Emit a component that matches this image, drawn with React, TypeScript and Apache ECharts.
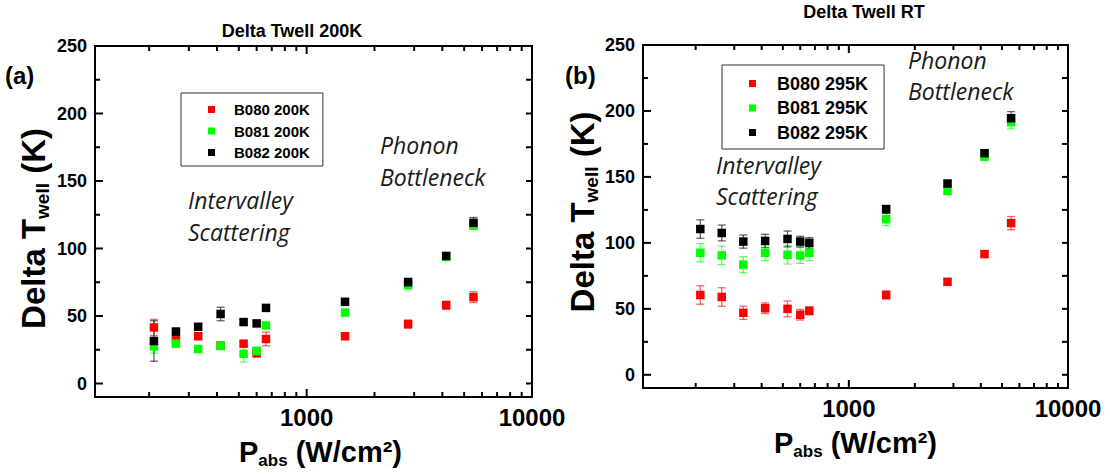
import React, { useEffect, useRef } from 'react';
import * as echarts from 'echarts';

// Absorbed power density (W/cm^2), shared by all series
const pAbs = [210, 263, 330, 415, 525, 600, 660, 1480, 2820, 4160, 5500];

// Panel (a): 200K
const b080_200K = [41.5, 33, 35, 28, 29.5, 22.5, 33, 35, 44, 58, 64];
const b080_200K_err = [6, 4, 2, 2, 2, 3, 5, 2, 3, 3, 4];
const b081_200K = [27.5, 29.5, 25.5, 28, 22, 24, 43, 52.5, 73, 94, 117];
const b081_200K_err = [5, 2, 2, 3, 6, 3, 2, 2, 3, 3, 3];
const b082_200K = [31.5, 38.5, 42, 51.5, 45.5, 44.5, 56, 60.5, 75, 94.5, 119];
const b082_200K_err = [15, 2, 2, 5, 2, 2, 2, 2, 3, 2, 4];

// Panel (b): 295K
const b080_295K = [60.5, 59, 47, 50.5, 50, 45.5, 48.5, 60.5, 70.5, 91.5, 115];
const b080_295K_err = [7, 7, 5, 4, 6, 4, 3, 3, 2, 2, 5];
const b081_295K = [92.5, 90.5, 83.5, 92.5, 91, 90.5, 92.5, 118, 139.5, 165.5, 191.5];
const b081_295K_err = [7, 7, 6, 6, 7, 6, 6, 5, 3, 3, 5];
const b082_295K = [110.5, 107.5, 101, 101.5, 103, 101, 100, 125.5, 145, 168, 194.5];
const b082_295K_err = [7, 6, 5, 5, 6, 4, 4, 3, 2, 2, 5];

// Axis ranges and tick values
const X_MIN = 115;
const X_MAX = 10000;
const Y_MIN = -10;
const Y_MAX = 250;
const xMajor = [1000, 10000];
const xMinor = [200, 300, 400, 500, 600, 700, 800, 900, 2000, 3000, 4000, 5000, 6000, 7000, 8000, 9000];
const yMajor = [0, 50, 100, 150, 200, 250];
const yMinor = [25, 75, 125, 175, 225];

const FONT = 'Liberation Sans';
const RED = '#ff0000';
const GREEN = '#00ff00';
const BLACK = '#000000';

const grids = [
  { left: 95, top: 46, width: 437, height: 352 },
  { left: 643, top: 45, width: 425, height: 343 },
];

const xNameRich = {
  a: { fontSize: 29, fontWeight: 'bold', fontFamily: FONT, color: '#000', lineHeight: 34 },
  s: { fontSize: 17, fontWeight: 'bold', fontFamily: FONT, color: '#000', lineHeight: 17, verticalAlign: 'bottom' },
};
const yNameRich = {
  a: { fontSize: 33, fontWeight: 'bold', fontFamily: FONT, color: '#000', lineHeight: 38 },
  s: { fontSize: 19, fontWeight: 'bold', fontFamily: FONT, color: '#000', lineHeight: 19, verticalAlign: 'bottom' },
};

const axisLineOn = { show: true, onZero: false, lineStyle: { color: '#000', width: 2, cap: 'square' } };

function xAxes(gridIndex: number, namePad: number[]) {
  const base = {
    gridIndex,
    type: 'log',
    logBase: 10,
    min: X_MIN,
    max: X_MAX,
    splitLine: { show: false },
    axisTick: { show: false },
    axisLine: axisLineOn,
  };
  return [
    {
      ...base,
      position: 'bottom',
      axisLabel: {
        customValues: xMajor,
        formatter: (v: number) => String(Math.round(v)),
        fontSize: 24,
        fontWeight: 'bold',
        fontFamily: FONT,
        color: '#000',
        margin: 8,
      },
      name: '{a|P}{s|abs}{a| (W/cm²)}',
      nameLocation: 'middle',
      nameGap: 38,
      nameTextStyle: { rich: xNameRich, padding: namePad },
    },
    { ...base, position: 'top', axisLabel: { show: false } },
  ];
}

function yAxes(gridIndex: number, nameGap: number, namePad: number[]) {
  const base = {
    gridIndex,
    type: 'value',
    min: Y_MIN,
    max: Y_MAX,
    splitLine: { show: false },
    axisTick: { show: false },
    axisLine: axisLineOn,
  };
  return [
    {
      ...base,
      position: 'left',
      axisLabel: {
        customValues: yMajor,
        fontSize: 18,
        fontWeight: 'bold',
        fontFamily: FONT,
        color: '#000',
        margin: 8,
      },
      name: '{a|Delta T}{s|well}{a| (K)}',
      nameLocation: 'middle',
      nameRotate: 90,
      nameGap,
      nameTextStyle: { rich: yNameRich, padding: namePad },
    },
    { ...base, position: 'right', axisLabel: { show: false } },
  ];
}

function tickLine(x1: number, y1: number, x2: number, y2: number) {
  return { type: 'line', shape: { x1, y1, x2, y2 }, style: { stroke: '#000', lineWidth: 2 } };
}

// Inward ticks on bottom and top edges, placed through the log x scale
function xTickSeries(xi: number, yi: number) {
  return {
    type: 'custom',
    xAxisIndex: xi,
    yAxisIndex: yi,
    silent: true,
    clip: false,
    z: 6,
    encode: { x: 0, y: 1 },
    data: [...xMajor.map((v) => [v, 0, 8]), ...xMinor.map((v) => [v, 0, 5])],
    renderItem: (_p: any, api: any) => {
      const v = api.value(0);
      const len = api.value(2);
      const b = api.coord([v, Y_MIN]);
      const t = api.coord([v, Y_MAX]);
      return {
        type: 'group',
        children: [tickLine(b[0], b[1], b[0], b[1] - len), tickLine(t[0], t[1], t[0], t[1] + len)],
      };
    },
  };
}

// Inward ticks on left and right edges, placed through the y scale
function yTickSeries(xi: number, yi: number) {
  return {
    type: 'custom',
    xAxisIndex: xi,
    yAxisIndex: yi,
    silent: true,
    clip: false,
    z: 6,
    encode: { x: 0, y: 1 },
    data: [...yMajor.map((v) => [X_MIN, v, 8, 6]), ...yMinor.map((v) => [X_MIN, v, 5, 6])],
    renderItem: (_p: any, api: any) => {
      const v = api.value(1);
      const lenL = api.value(2);
      const lenR = api.value(3);
      const l = api.coord([X_MIN, v]);
      const r = api.coord([X_MAX, v]);
      return {
        type: 'group',
        children: [tickLine(l[0], l[1], l[0] + lenL, l[1]), tickLine(r[0], r[1], r[0] - lenR, r[1])],
      };
    },
  };
}

function errorSeries(ys: number[], es: number[], color: string, xi: number, yi: number) {
  return {
    type: 'custom',
    xAxisIndex: xi,
    yAxisIndex: yi,
    silent: true,
    z: 1,
    encode: { x: 0, y: 1 },
    data: pAbs.map((x, i) => [x, ys[i], es[i]]),
    renderItem: (_params: any, api: any) => {
      const x = api.value(0);
      const y = api.value(1);
      const e = api.value(2);
      const top = api.coord([x, y + e]);
      const bot = api.coord([x, y - e]);
      const hw = 4;
      const style = { stroke: color, lineWidth: 1.3, opacity: 0.6 };
      return {
        type: 'group',
        children: [
          { type: 'line', shape: { x1: top[0], y1: top[1], x2: bot[0], y2: bot[1] }, style },
          { type: 'line', shape: { x1: top[0] - hw, y1: top[1], x2: top[0] + hw, y2: top[1] }, style },
          { type: 'line', shape: { x1: bot[0] - hw, y1: bot[1], x2: bot[0] + hw, y2: bot[1] }, style },
        ],
      };
    },
  };
}

function scatterSeries(name: string, ys: number[], color: string, xi: number, yi: number) {
  return {
    type: 'scatter',
    name,
    xAxisIndex: xi,
    yAxisIndex: yi,
    symbol: 'rect',
    symbolSize: 8.5,
    z: 3,
    itemStyle: { color, opacity: 1 },
    data: pAbs.map((x, i) => [x, ys[i]]),
  };
}

function legendFor(
  names: string[],
  left: number,
  top: number,
  fontSize: number,
  lineHeight: number,
  gap: number,
  padding: number[],
  textPad: number
) {
  return {
    data: names,
    orient: 'vertical',
    left,
    top,
    icon: 'rect',
    itemWidth: 7,
    itemHeight: 7,
    itemGap: gap,
    padding,
    borderColor: '#333',
    borderWidth: 1,
    selectedMode: false,
    textStyle: {
      fontSize,
      fontWeight: 'bold',
      fontFamily: FONT,
      color: '#000',
      lineHeight,
      padding: [0, 0, 0, textPad],
    },
  };
}

function annot(text: string, x: number, y: number, size: number) {
  return {
    type: 'text',
    x,
    y,
    style: {
      text,
      fontFamily: 'Open Sans',
      fontStyle: 'italic',
      fontSize: size,
      fill: '#1a1a1a',
      verticalAlign: 'middle',
    },
  };
}

export default function App() {
  const ref = useRef<HTMLDivElement>(null);

  useEffect(() => {
    if (!ref.current) return;
    const chart = echarts.init(ref.current, undefined, { renderer: 'svg' });
    const option: any = {
      animation: false,
      backgroundColor: '#fff',
      textStyle: { fontFamily: FONT },
      title: [
        {
          text: 'Delta Twell 200K',
          left: 287,
          top: 17,
          textAlign: 'center',
          textStyle: { fontSize: 18, fontWeight: 'bold', fontFamily: FONT, color: '#000' },
        },
        {
          text: 'Delta Twell RT',
          left: 859,
          top: -2,
          textAlign: 'center',
          textStyle: { fontSize: 18, fontWeight: 'bold', fontFamily: FONT, color: '#000' },
        },
      ],
      legend: [
        legendFor(['B080 200K', 'B081 200K', 'B082 200K'], 181, 93, 15, 14, 6.5, [9, 13, 6, 27], 14),
        legendFor(['B080 295K', 'B081 295K', 'B082 295K'], 722, 65, 18, 17, 6.5, [9.5, 16, 7.5, 27], 16),
      ],
      grid: grids,
      xAxis: [...xAxes(0, [0, 0, 0, 14]), ...xAxes(1, [0, 0, 0, 0])],
      yAxis: [...yAxes(0, 43, [0, 14, 0, 0]), ...yAxes(1, 41, [0, 0, 0, 9])],
      series: [
        xTickSeries(0, 0),
        yTickSeries(0, 0),
        xTickSeries(2, 2),
        yTickSeries(2, 2),
        errorSeries(b080_200K, b080_200K_err, RED, 0, 0),
        errorSeries(b081_200K, b081_200K_err, GREEN, 0, 0),
        errorSeries(b082_200K, b082_200K_err, BLACK, 0, 0),
        scatterSeries('B080 200K', b080_200K, RED, 0, 0),
        scatterSeries('B081 200K', b081_200K, GREEN, 0, 0),
        scatterSeries('B082 200K', b082_200K, BLACK, 0, 0),
        errorSeries(b080_295K, b080_295K_err, RED, 2, 2),
        errorSeries(b081_295K, b081_295K_err, GREEN, 2, 2),
        errorSeries(b082_295K, b082_295K_err, BLACK, 2, 2),
        scatterSeries('B080 295K', b080_295K, RED, 2, 2),
        scatterSeries('B081 295K', b081_295K, GREEN, 2, 2),
        scatterSeries('B082 295K', b082_295K, BLACK, 2, 2),
      ],
      graphic: [
        {
          type: 'text',
          x: 5,
          y: 75,
          style: { text: '(a)', fontFamily: FONT, fontWeight: 'bold', fontSize: 24, fill: '#000', verticalAlign: 'middle' },
        },
        {
          type: 'text',
          x: 565,
          y: 75,
          style: { text: '(b)', fontFamily: FONT, fontWeight: 'bold', fontSize: 24, fill: '#000', verticalAlign: 'middle' },
        },
        annot('Intervalley', 188, 200, 23),
        annot('Scattering', 188, 232, 23),
        annot('Phonon', 380, 145, 23),
        annot('Bottleneck', 380, 177, 23),
        annot('Intervalley', 716, 165, 23),
        annot('Scattering', 716, 196, 23),
        annot('Phonon', 908, 60, 23),
        annot('Bottleneck', 908, 91, 23),
      ],
    };
    chart.setOption(option);
    return () => {
      chart.dispose();
    };
  }, []);

  return (
    <div
      ref={ref}
      style={{ position: 'fixed', left: 0, top: 0, width: 1110, height: 474, background: '#fff' }}
    />
  );
}
